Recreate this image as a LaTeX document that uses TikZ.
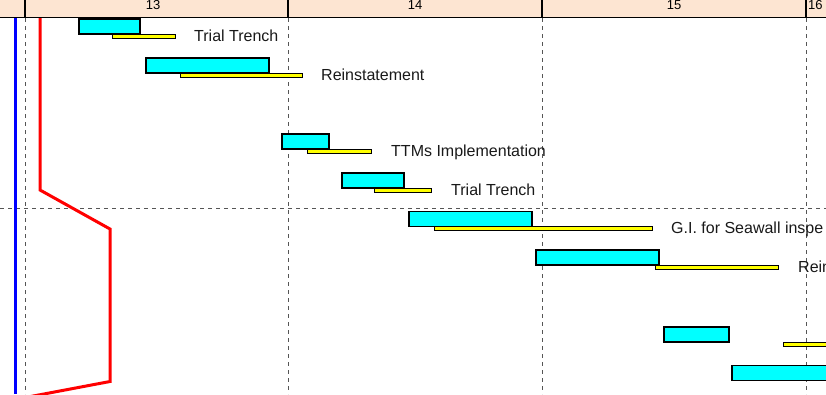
\documentclass[tikz,border=0pt]{standalone}
\usepackage{fontspec}
\setmainfont{Liberation Sans}
\definecolor{hdrpeach}{RGB}{253,229,210}
\definecolor{gridgray}{RGB}{85,85,85}
\definecolor{planfill}{RGB}{0,255,255}
\definecolor{actfill}{RGB}{255,255,0}

\begin{document}
\begin{tikzpicture}[x=1pt,y=-1pt,
	planbar/.style={draw=black,line width=1.2pt,fill=planfill},
	actbar/.style={draw=black,line width=1pt,fill=actfill},
	gridline/.style={gridgray,line width=0.9pt,dash pattern=on 4pt off 4pt},
	daylabel/.style={anchor=base,inner sep=0pt,font=\fontsize{13}{15}\selectfont},
	tasklabel/.style={anchor=base west,inner sep=0pt,text=black!90,font=\fontsize{16}{18}\selectfont}]
	\useasboundingbox (0,0) rectangle (826,394);
	\clip (0,0) rectangle (826,394);
	\def\bh{15}
	% grid
	\foreach \gx in {25,288,542,806}
		\draw[gridline] (\gx,18) -- (\gx,394);
	\draw[gridline] (0,208) -- (826,208);
	% header band
	\fill[hdrpeach] (0,0) rectangle (826,17);
	\draw[line width=1.5pt] (0,17.5) -- (826,17.5);
	\foreach \gx in {25,288,542,806}
		\draw[line width=1.2pt] (\gx,0) -- (\gx,17);
	\node[daylabel] (d13) at (153,9.5) {13};
	\node[daylabel] (d14) at (415,9.5) {14};
	\node[daylabel] (d15) at (674,9.5) {15};
	\node[daylabel,anchor=base west] (d16) at (808,9.5) {16};
	% bars
	\foreach \n/\t/\pa/\pb/\aa/\ab/\lx/\txt in {
			1/19/79/140/112/175/194/Trial Trench,
			2/58/146/269/180/302/321/Reinstatement,
			3/134/282/329/307/371/391/TTMs Implementation,
			4/173/342/404/374/431/451/Trial Trench,
			5/211.5/409/532/434/652/671/G.I. for Seawall inspe,
			6/250/536/659/655/778/798/Rein}{
		\draw[actbar] (\aa,\t+\bh) rectangle (\ab,\t+\bh+4);
		\draw[planbar] (\pa,\t) rectangle (\pb,\t+\bh);
		\node[tasklabel] (task\n) at (\lx,\t+22) {\txt};
	}
	\draw[actbar] (783,342) rectangle (840,346);
	\draw[planbar] (664,327) rectangle (729,342);
	\draw[planbar] (732,365.5) rectangle (840,380.5);
	% progress lines
	\draw[blue,line width=3pt] (15,18) -- (15,394);
	\draw[red,line width=3pt,line join=miter] (40,18) -- (40,190) -- (110,229) -- (110,381.5) -- (28,397);
\end{tikzpicture}
\end{document}
